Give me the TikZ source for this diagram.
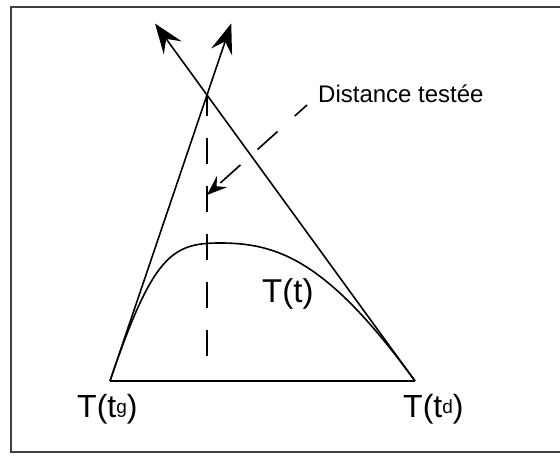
\documentclass[tikz,border=0pt]{standalone}
\usepackage{fontspec}
\setmainfont{Liberation Sans}
\usetikzlibrary{arrows.meta,calc,positioning}

\begin{document}
\begin{tikzpicture}[x=1pt, y=-1pt,
  edge/.style={line width=1.6pt},
  bigarr/.style={edge, -{Stealth[length=30pt, width=22pt, inset=11pt]}},
  guide/.style={edge, dash pattern=on 26pt off 22pt},
  lead/.style={edge, dash pattern=on 27pt off 23pt, dash phase=10.5pt, -{Stealth[length=20pt, width=15pt, inset=7pt]}},
  lab/.style={inner sep=0pt, anchor=base west, font=\fontsize{32}{36}\selectfont}]
\useasboundingbox (0,0) rectangle (560,457);
\draw[line width=1.4pt, black!75] (562,7) -- (11,7) -- (11,452) -- (562,452);
\coordinate (tg) at (110,381);
\coordinate (td) at (415,381);
\coordinate (apex) at (207,95);
\coordinate (tipl) at ($(td)!1.25!(apex)$);
\coordinate (tipr) at ($(tg)!1.25!(apex)$);
\coordinate (top) at (220,243);
\coordinate (foot) at (207,356);
\coordinate (hit) at (207,195);
\coordinate (ldr) at (307,105);
\node[lab] (ltg) at (77,417) {T(t\raisebox{4pt}{\fontsize{19}{19}\selectfont g})};
\node[lab] (ltd) at (403,417) {T(t\raisebox{4pt}{\fontsize{19}{19}\selectfont d})};
\node[lab, font=\fontsize{33}{37}\selectfont] (lt) at (262,302) {T(t)};
\node[lab, font=\fontsize{24}{28}\selectfont] (dist) at (318,103) {Distance testée};
\draw[edge] (tg) -- (td);
\draw[bigarr] (tg) -- (tipr);
\draw[bigarr] (td) -- (tipl);
\draw[edge] (tg) .. controls ($(tg)!.44!(apex)$) and (172,243) .. (top)
  .. controls (278,243) and ($(td)!.42!(apex)$) .. (td);
\draw[guide] (foot) -- (apex);
\draw[lead] (ldr) -- (hit);
\end{tikzpicture}
\end{document}
